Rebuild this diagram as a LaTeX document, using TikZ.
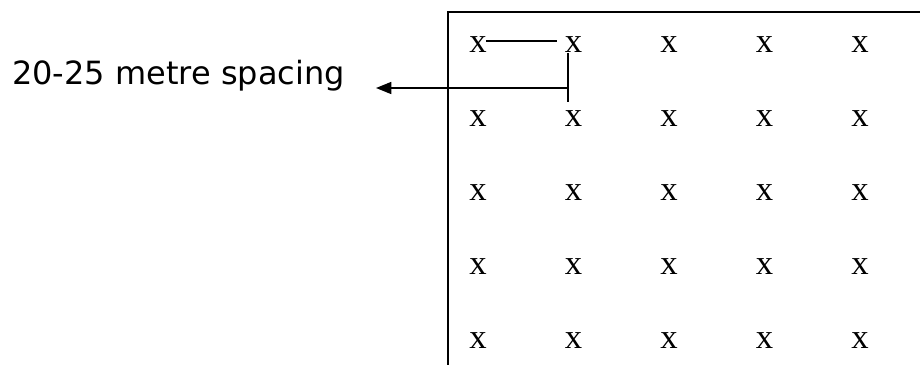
\documentclass[tikz,border=0pt]{standalone}
\usepackage{fontspec}
\setmainfont{DejaVu Sans}
\newfontfamily\gridfont{Liberation Serif}
\usetikzlibrary{arrows.meta}
\begin{document}
\begin{tikzpicture}[x=0.75pt,y=-0.75pt,
  lbl/.style={inner sep=0pt,anchor=base west,font=\fontsize{24}{28}\selectfont},
  pt/.style={inner sep=0pt,anchor=base,font=\gridfont\fontsize{26}{30}\selectfont},
  ln/.style={line width=1.2pt,draw=black},
  box/.style={line width=1.2pt,draw=black}]
\useasboundingbox (0,0) rectangle (920,365);
% label
\node[lbl] (label) at (12,84) {20-25 metre spacing};
% grid of x
\foreach \r [count=\i] in {52,126,200,274,348}{
  \foreach \c [count=\j] in {478,573.5,669,764.5,860}{
    \node[pt] (x\i\j) at (\c,\r) {x};
  }
}
% box
\coordinate (tr) at (920,12);
\coordinate (tl) at (448,12);
\coordinate (bl) at (448,365);
\draw[box] (tr) -- (tl) -- (bl);
% spacing marks
\draw[ln] ([xshift=-0.5pt,yshift=2.5pt]x11.east) -- ([xshift=-6pt,yshift=2.5pt]x12.west);
\coordinate (vt) at (568,53);
\coordinate (vb) at (568,102);
\draw[ln] (vt) -- (vb);
\coordinate (j) at (568,88);
\coordinate (tip) at (376,88);
\draw[ln,-{Triangle[length=11.5pt,width=9pt]}] (j) -- (tip);
\end{tikzpicture}
\end{document}
